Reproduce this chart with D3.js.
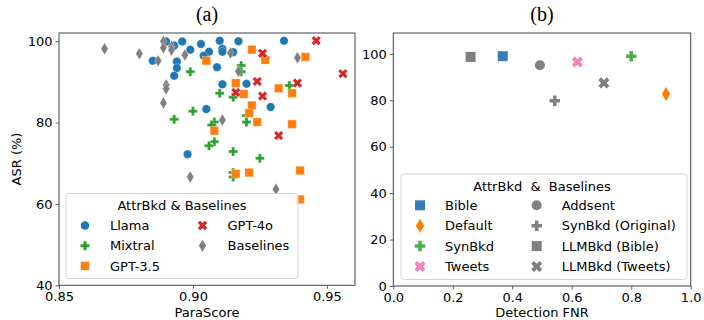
<!DOCTYPE html>
<html>
<head>
<meta charset="utf-8">
<script src="https://cdn.jsdelivr.net/npm/d3@7"></script>
<style>
  body { margin: 0; background: #fff; }
  text { font-family: "DejaVu Sans", sans-serif; fill: #000; }
  .title { font-family: "Liberation Serif", "DejaVu Serif", serif; font-size: 20px; }
</style>
</head>
<body>
<svg id="chart" width="704" height="320"></svg>
<script>
// (a) ParaScore vs ASR, [ParaScore, ASR]
const llama = [
  [0.885, 95.2], [0.890, 99.9], [0.893, 98.9], [0.896, 99.9], [0.899, 97.9],
  [0.903, 99.3], [0.906, 97.4], [0.904, 96.4], [0.910, 100.1], [0.911, 98.1],
  [0.911, 97.4], [0.915, 97.3], [0.917, 100.0], [0.894, 95.0], [0.894, 93.4],
  [0.893, 91.5], [0.909, 93.6], [0.911, 89.4], [0.905, 83.3], [0.898, 72.2],
  [0.920, 89.5], [0.934, 100.1], [0.929, 83.8]
];
const mixtral = [
  [0.899, 92.5], [0.910, 87.2], [0.915, 86.2], [0.900, 82.8], [0.893, 80.8],
  [0.908, 80.1], [0.907, 79.4], [0.908, 75.3], [0.906, 74.3], [0.915, 72.9],
  [0.918, 94.0], [0.918, 92.5], [0.936, 89.1], [0.920, 81.7], [0.920, 80.1],
  [0.925, 71.2], [0.915, 67.7], [0.915, 66.6]
];
const gpt35 = [
  [0.905, 95.2], [0.916, 89.7], [0.908, 78.0], [0.922, 97.9], [0.927, 95.4],
  [0.942, 96.1], [0.919, 87.0], [0.932, 88.4], [0.937, 87.2], [0.922, 84.2],
  [0.921, 82.3], [0.924, 80.1], [0.937, 79.6], [0.916, 67.4], [0.921, 67.7],
  [0.940, 68.2], [0.940, 61.1]
];
const gpt4o = [
  [0.946, 100.1], [0.926, 97.0], [0.956, 92.0], [0.924, 90.1], [0.939, 89.7],
  [0.916, 87.4], [0.926, 86.5], [0.932, 76.8]
];
const baselinesA = [
  [0.867, 98.1], [0.880, 96.9], [0.889, 99.9], [0.889, 98.4], [0.892, 98.7],
  [0.892, 97.8], [0.887, 95.2], [0.897, 96.6], [0.890, 89.2], [0.890, 88.3],
  [0.889, 84.8], [0.899, 66.6], [0.911, 80.6], [0.914, 97.1], [0.917, 92.6],
  [0.939, 95.9], [0.931, 63.6]
];

// (b) Detection FNR vs ASR
const methodsB = ["Bible", "Default", "SynBkd", "Tweets", "Addsent", "SynBkd (Original)", "LLMBkd (Bible)", "LLMBkd (Tweets)"];
const fnrB = [0.368, 0.917, 0.800, 0.619, 0.493, 0.543, 0.260, 0.708];
const asrB = [99.0, 82.7, 99.0, 96.5, 95.1, 79.8, 98.7, 87.5];

const ticksAx = [0.85, 0.90, 0.95];
const ticksAy = [40, 60, 80, 100];
const ticksBx = [0, 0.2, 0.4, 0.6, 0.8, 1.0];
const ticksBy = [0, 20, 40, 60, 80, 100];

const svg = d3.select("#chart");

const C = {
  blue: "#1f77b4", orange: "#ff7f0e", green: "#2ca02c", red: "#d62728", gray: "#7f7f7f",
  bBlue: "#377eb8", bOrange: "#ff7f00", bGreen: "#4daf4a", bPink: "#f781bf", bGray: "#808080"
};

// marker paths, s = full size in px
function markerPath(type, s) {
  const h = s / 2;
  if (type === "circle") return d3.symbol(d3.symbolCircle, Math.PI * h * h)();
  if (type === "square") return `M${-h},${-h}H${h}V${h}H${-h}Z`;
  if (type === "diamond") {
    const w = h * 0.6;
    return `M0,${-h}L${w},0L0,${h}L${-w},0Z`;
  }
  const t = h / 3;
  const pts = [[-h, -t], [-t, -t], [-t, -h], [t, -h], [t, -t], [h, -t], [h, t], [t, t], [t, h], [-t, h], [-t, t], [-h, t]];
  let p = pts;
  if (type === "x") {
    const a = Math.PI / 4, k = 1.12;
    p = pts.map(([x, y]) => [k * (x * Math.cos(a) - y * Math.sin(a)), k * (x * Math.sin(a) + y * Math.cos(a))]);
  }
  return "M" + p.map((d) => d.join(",")).join("L") + "Z";
}

function drawAxes(g, x, y, xt, yt, xfmt, yfmt) {
  const [x0, x1] = x.range();
  const [y0, y1] = y.range();
  const xa = g.append("g").attr("transform", `translate(0,${y0})`)
    .call(d3.axisBottom(x).tickValues(xt).tickFormat(xfmt).tickSize(3.5).tickPadding(3));
  const ya = g.append("g").attr("transform", `translate(${x0},0)`)
    .call(d3.axisLeft(y).tickValues(yt).tickFormat(yfmt).tickSize(3.5).tickPadding(3));
  [xa, ya].forEach((a) => {
    a.select(".domain").remove();
    a.selectAll("line").attr("stroke", "#333").attr("stroke-width", 0.8);
    a.selectAll("text").attr("font-size", "13px").attr("font-family", "DejaVu Sans");
  });
  g.append("rect")
    .attr("x", x0).attr("y", y1).attr("width", x1 - x0).attr("height", y0 - y1)
    .attr("fill", "none").attr("stroke", "#555").attr("stroke-width", 1.1);
}

function legendBox(g, x, y, w, h) {
  g.append("rect").attr("x", x).attr("y", y).attr("width", w).attr("height", h)
    .attr("rx", 3).attr("fill", "#fff").attr("fill-opacity", 0.8)
    .attr("stroke", "#d4d4d4").attr("stroke-width", 1);
}

// ---------- panel (a)
const xa = d3.scaleLinear().domain([0.85, 0.9605]).range([59, 355]);
const ya = d3.scaleLinear().domain([40, 102]).range([285.3, 33]);
const ga = svg.append("g");

const seriesA = [
  { name: "Llama", data: llama, color: C.blue, type: "circle", size: 8.5 },
  { name: "Mixtral", data: mixtral, color: C.green, type: "plus", size: 9 },
  { name: "GPT-3.5", data: gpt35, color: C.orange, type: "square", size: 8.5 },
  { name: "GPT-4o", data: gpt4o, color: C.red, type: "x", size: 9 },
  { name: "Baselines", data: baselinesA, color: C.gray, type: "diamond", size: 12 }
];

seriesA.forEach((s) => {
  ga.append("g").selectAll("path").data(s.data).join("path")
    .attr("d", markerPath(s.type, s.size))
    .attr("transform", (d) => `translate(${xa(d[0])},${ya(d[1])})`)
    .attr("fill", s.color)
    .attr("stroke", "#fff").attr("stroke-width", 0.3);
});

drawAxes(ga, xa, ya, ticksAx, ticksAy, d3.format(".2f"), d3.format("d"));

legendBox(ga, 66, 193.5, 232, 85);
ga.append("text").attr("x", 182, 0).attr("y", 210).attr("text-anchor", "middle")
  .attr("font-size", "13px").text("AttrBkd & Baselines");
seriesA.forEach((s, i) => {
  const col = i < 3 ? 0 : 1;
  const row = i < 3 ? i : i - 3;
  const mx = col === 0 ? 85 : 202.5;
  const my = 225.5 + row * 20.2;
  ga.append("path").attr("d", markerPath(s.type, s.size))
    .attr("transform", `translate(${mx},${my})`).attr("fill", s.color);
  ga.append("text").attr("x", mx + 25).attr("y", my + 4.7).attr("font-size", "13px").text(s.name);
});

ga.append("text").attr("class", "title").attr("x", 207).attr("y", 21).attr("text-anchor", "middle").text("(a)");
ga.append("text").attr("x", 207).attr("y", 317).attr("text-anchor", "middle").attr("font-size", "13px").text("ParaScore");
ga.append("text").attr("transform", "translate(21,159) rotate(-90)").attr("text-anchor", "middle")
  .attr("font-size", "13px").text("ASR (%)");

// ---------- panel (b)
const xb = d3.scaleLinear().domain([0, 1]).range([393.3, 690.7]);
const yb = d3.scaleLinear().domain([0, 109]).range([286, 33]);
const gb = svg.append("g");

const styleB = [
  { color: C.bBlue, type: "square", size: 10 },
  { color: C.bOrange, type: "diamond", size: 14 },
  { color: C.bGreen, type: "plus", size: 10.5 },
  { color: C.bPink, type: "x", size: 10.5 },
  { color: C.bGray, type: "circle", size: 10 },
  { color: C.bGray, type: "plus", size: 10.5 },
  { color: C.bGray, type: "square", size: 10 },
  { color: C.bGray, type: "x", size: 10.5 }
];

gb.append("g").selectAll("path").data(methodsB).join("path")
  .attr("d", (d, i) => markerPath(styleB[i].type, styleB[i].size))
  .attr("transform", (d, i) => `translate(${xb(fnrB[i])},${yb(asrB[i])})`)
  .attr("fill", (d, i) => styleB[i].color);

drawAxes(gb, xb, yb, ticksBx, ticksBy, d3.format(".1f"), d3.format("d"));

legendBox(gb, 401, 174, 286, 105.5);
gb.append("text").attr("x", 542, 0).attr("y", 190.5).attr("text-anchor", "middle")
  .attr("font-size", "13px").attr("xml:space", "preserve").text("AttrBkd  &  Baselines");
methodsB.forEach((m, i) => {
  const col = i < 4 ? 0 : 1;
  const row = i % 4;
  const mx = col === 0 ? 420 : 536.7;
  const my = 205.3 + row * 20.4;
  gb.append("path").attr("d", markerPath(styleB[i].type, styleB[i].size))
    .attr("transform", `translate(${mx},${my})`).attr("fill", styleB[i].color);
  gb.append("text").attr("x", mx + 25).attr("y", my + 4.7).attr("font-size", "13px").text(m);
});

gb.append("text").attr("class", "title").attr("x", 542).attr("y", 21).attr("text-anchor", "middle").text("(b)");
gb.append("text").attr("x", 542).attr("y", 317).attr("text-anchor", "middle").attr("font-size", "13px").text("Detection FNR");
</script>
</body>
</html>
